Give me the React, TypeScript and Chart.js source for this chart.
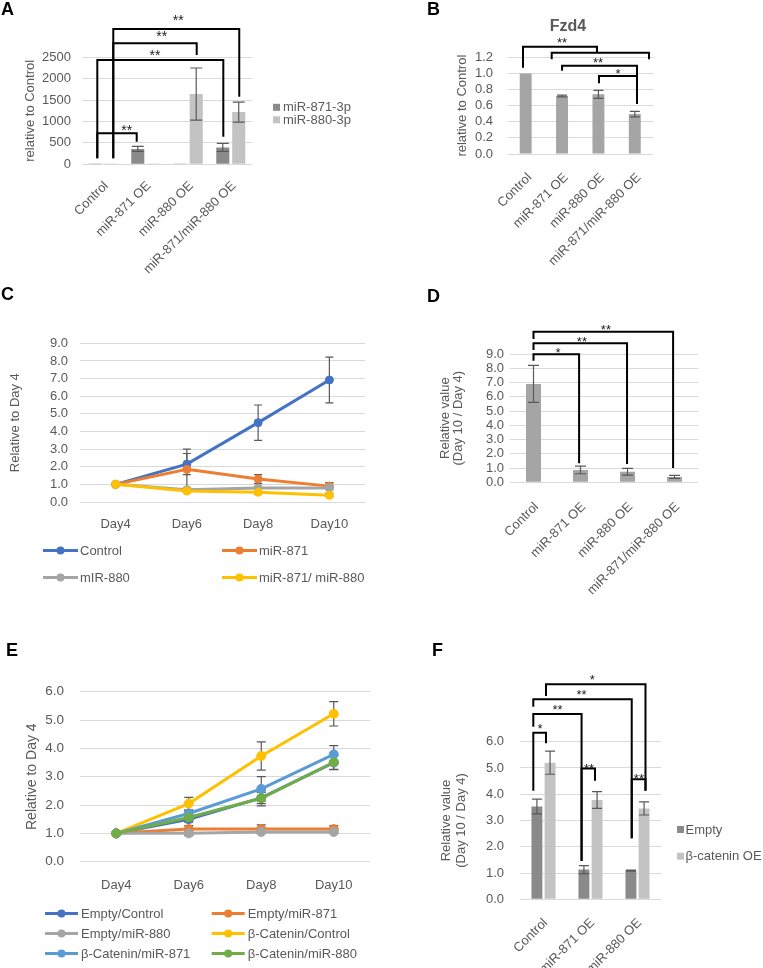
import { useEffect, useRef } from "react";
import { Chart, registerables } from "chart.js";

Chart.register(...registerables);

// ---------------- data ----------------
const groups4 = ["Control", "miR-871 OE", "miR-880 OE", "miR-871/miR-880 OE"];
const groups3 = ["Control", "miR-871 OE", "miR-880 OE"];
const days = ["Day4", "Day6", "Day8", "Day10"];

// A
const a871 = [1, 360, 6, 395];
const a871Err = [0, 60, 0, 95];
const a880 = [1, 18, 1640, 1220];
const a880Err = [0, 0, 610, 235];
const aTicks = [0, 500, 1000, 1500, 2000, 2500];

// B (Fzd4)
const bFzd4 = [1.0, 0.72, 0.74, 0.495];
const bFzd4Err = [0, 0.01, 0.05, 0.035];

// C
const cControl = [1.0, 2.15, 4.5, 6.92];
const cControlErr = [0, 0.6, 1.0, 1.3];
const c871 = [1.0, 1.85, 1.3, 0.9];
const c871Err = [0, 1.15, 0.25, 0.2];
const c880 = [1.0, 0.7, 0.8, 0.8];
const c880Err = [0, 0.1, 0.25, 0.3];
const cBoth = [1.0, 0.62, 0.55, 0.38];
const cBothErr = [0, 0.08, 0.1, 0.08];

// D
const dRatio = [6.9, 0.87, 0.74, 0.38];
const dRatioErr = [1.3, 0.27, 0.24, 0.1];

// E
const eEmptyCtrl = [1.0, 1.5, 2.25, 3.5];
const eEmptyCtrlErr = [0, 0.1, 0.2, 0.25];
const eEmpty871 = [1.0, 1.15, 1.15, 1.15];
const eEmpty871Err = [0, 0.12, 0.15, 0.12];
const eEmpty880 = [1.0, 1.0, 1.05, 1.05];
const eEmpty880Err = [0, 0.08, 0.05, 0.05];
const eBcatCtrl = [1.0, 2.05, 3.73, 5.22];
const eBcatCtrlErr = [0, 0.22, 0.5, 0.43];
const eBcat871 = [1.0, 1.7, 2.57, 3.79];
const eBcat871Err = [0, 0.1, 0.43, 0.31];
const eBcat880 = [1.0, 1.56, 2.24, 3.51];
const eBcat880Err = [0, 0.08, 0.27, 0.25];

// F
const fEmpty = [3.53, 1.13, 1.09];
const fEmptyErr = [0.28, 0.15, 0.02];
const fBcat = [5.2, 3.78, 3.46];
const fBcatErr = [0.44, 0.32, 0.25];

// significance brackets in data units:
// [xLeft, xRight, yTop, yLeftEnd, yRightEnd, label, labelX, labelY]
const bracketsA = [
  [-0.14, 0.787, 724, 140, 528, "**", 0.552, 855],
  [-0.14, 2.825, 2436, 140, 645, "**", 1.218, 2593],
  [0.236, 2.199, 2827, 140, 2553, "**", 1.375, 3037],
  [0.236, 3.2, 3161, 140, 1579, "**", 1.766, 3411],
];
const bracketsB = [
  [-0.074, 1.96, 1.331, 1.071, 1.257, "**", 1.0, 1.406],
  [0.715, 3.39, 1.257, 1.175, 1.175, "", 0, 0],
  [1.0, 3.06, 1.096, 1.033, 0.62, "**", 1.99, 1.158],
  [2.015, 3.06, 0.968, 0.877, 0.62, "*", 2.54, 1.021],
];
const bracketsD = [
  [0, 0.97, 8.98, 8.53, 1.33, "*", 0.52, 9.28],
  [0, 1.99, 9.75, 9.28, 1.28, "**", 1.03, 10.05],
  [0, 2.97, 10.56, 10.06, 1.0, "**", 1.54, 10.84],
];
const bracketsF = [
  [-0.217, 0.053, 6.34, 4.13, 5.94, "*", -0.074, 6.57],
  [-0.217, 0.81, 7.05, 6.57, 1.46, "**", 0.3, 7.29],
  [-0.217, 1.877, 7.62, 7.33, 2.32, "**", 0.81, 7.86],
  [0.053, 2.17, 8.19, 7.74, 4.13, "*", 1.04, 8.43],
  [0.81, 1.096, 4.98, 1.46, 4.51, "**", 0.97, 5.07],
  [1.877, 2.17, 4.57, 2.32, 4.13, "**", 2.03, 4.67],
];

// ---------------- styles ----------------
const FONT = "'Liberation Sans', Arial, Helvetica, sans-serif";
const TXT = "#595959";
const GRID = "#d9d9d9";
const ERR = "#595959";
const DARK = "#8a8a8a";
const LIGHT = "#c3c3c3";
const MID = "#a5a5a5";
const BLUE = "#4472C4";
const ORANGE = "#ED7D31";
const GRAY = "#A5A5A5";
const YELLOW = "#FFC000";
const LBLUE = "#5B9BD5";
const GREEN = "#70AD47";

type Rect = { x: number; y: number; w: number; h: number };

// ---------------- plugins ----------------
function drawErrors(chart: any, opts: any) {
  const { ctx } = chart;
  const ys = chart.scales.y;
  ctx.save();
  ctx.strokeStyle = opts.color || ERR;
  ctx.lineWidth = opts.width || 1.2;
  chart.data.datasets.forEach((ds: any, i: number) => {
    const errs = ds.errors;
    if (!errs) return;
    const meta = chart.getDatasetMeta(i);
    meta.data.forEach((el: any, j: number) => {
      const e = errs[j];
      if (!e) return;
      const v = ds.data[j];
      const x = el.x;
      const t = ys.getPixelForValue(v + e);
      const b = ys.getPixelForValue(v - e);
      const hw = (opts.cap || 10) / 2;
      ctx.beginPath();
      ctx.moveTo(x, t);
      ctx.lineTo(x, b);
      ctx.moveTo(x - hw, t);
      ctx.lineTo(x + hw, t);
      ctx.moveTo(x - hw, b);
      ctx.lineTo(x + hw, b);
      ctx.stroke();
    });
  });
  ctx.restore();
}

const errorBarsPlugin = {
  id: "errorBars",
  beforeDatasetsDraw(chart: any, _a: any, opts: any) {
    if (opts && opts.behind) drawErrors(chart, opts);
  },
  afterDatasetsDraw(chart: any, _a: any, opts: any) {
    if (opts && !opts.behind) drawErrors(chart, opts);
  },
};

const bracketsPlugin = {
  id: "brackets",
  afterDraw(chart: any, _a: any, opts: any) {
    const items = opts && opts.items;
    if (!items) return;
    const { ctx } = chart;
    const xs = chart.scales.x;
    const ys = chart.scales.y;
    ctx.save();
    ctx.strokeStyle = "#000";
    ctx.lineWidth = opts.width || 2;
    ctx.lineJoin = "miter";
    ctx.fillStyle = "#1a1a1a";
    ctx.font = `${opts.fontSize || 13}px ${FONT}`;
    ctx.textAlign = "center";
    ctx.textBaseline = "alphabetic";
    for (const it of items) {
      const [x1, x2, yt, y1, y2, label, lx, ly] = it;
      const X1 = xs.getPixelForValue(x1);
      const X2 = xs.getPixelForValue(x2);
      const YT = ys.getPixelForValue(yt);
      ctx.beginPath();
      ctx.moveTo(X1, ys.getPixelForValue(y1));
      ctx.lineTo(X1, YT);
      ctx.lineTo(X2, YT);
      ctx.lineTo(X2, ys.getPixelForValue(y2));
      ctx.stroke();
      if (label) {
        const m = ctx.measureText(label);
        const cy = ys.getPixelForValue(ly);
        ctx.fillText(
          label,
          xs.getPixelForValue(lx),
          cy + (m.actualBoundingBoxAscent - m.actualBoundingBoxDescent) / 2
        );
      }
    }
    ctx.restore();
  },
};

const gridLegendPlugin = {
  id: "gridLegend",
  afterDraw(chart: any, _a: any, o: any) {
    if (!o || o.x === undefined) return;
    const { ctx } = chart;
    ctx.save();
    ctx.font = `${o.fontSize || 13}px ${FONT}`;
    ctx.textBaseline = "middle";
    ctx.textAlign = "left";
    chart.data.datasets.forEach((ds: any, i: number) => {
      const col = i % o.cols;
      const row = Math.floor(i / o.cols);
      const x = o.x + col * (o.colW || 0);
      const y = o.y + row * o.rowH;
      if (o.kind === "line") {
        const color = ds.borderColor;
        ctx.strokeStyle = color;
        ctx.lineWidth = 3;
        ctx.beginPath();
        ctx.moveTo(x, y);
        ctx.lineTo(x + o.len, y);
        ctx.stroke();
        ctx.fillStyle = color;
        ctx.beginPath();
        ctx.arc(x + o.len / 2, y, 4, 0, Math.PI * 2);
        ctx.fill();
        ctx.fillStyle = TXT;
        ctx.fillText(ds.label, x + o.len + o.gap, y + 0.5);
      } else {
        ctx.fillStyle = ds.backgroundColor;
        ctx.fillRect(x, y - o.box / 2, o.box, o.box);
        ctx.fillStyle = TXT;
        ctx.fillText(ds.label, x + o.box + o.gap, y + 0.5);
      }
    });
    ctx.restore();
  },
};

// ---------------- helpers ----------------
function frame(rect: Rect, p: { l: number; t: number; r: number; b: number }, titleCX: number, titleLH: number) {
  const left = titleCX - titleLH / 2 - rect.x;
  const xh = rect.y + rect.h - p.b;
  return {
    padding: { left, top: p.t - rect.y, right: rect.x + rect.w - p.r, bottom: 0 },
    yWidth: p.l - rect.x - left,
    xh,
  };
}

function yAxis(o: any) {
  return {
    min: o.min,
    max: o.max,
    ticks: {
      stepSize: o.step,
      callback: o.fmt,
      padding: o.pad,
      autoSkip: false,
      color: TXT,
      font: { size: o.tickSize || 13, family: FONT },
    },
    grid: { color: GRID, drawTicks: false, lineWidth: 1 },
    border: { display: false },
    title: {
      display: true,
      text: o.title,
      color: TXT,
      padding: 0,
      font: { size: o.titleSize || 13, family: FONT, lineHeight: o.titleLH || 1.2 },
    },
    afterFit: (s: any) => {
      s.width = o.width;
    },
  };
}

function xAxis(o: any) {
  return {
    offset: true,
    grid: { display: false },
    border: { display: false },
    ticks: {
      color: TXT,
      font: { size: o.size || 13, family: FONT },
      minRotation: o.rot,
      maxRotation: o.rot,
      autoSkip: false,
      padding: o.pad,
      labelOffset: o.labelOffset || 0,
    },
    afterFit: (s: any) => {
      s.height = o.h;
    },
  };
}

const fmt1 = (v: any) => Number(v).toFixed(1);
const fmt0 = (v: any) => String(v);

function baseOptions(fr: any) {
  return {
    responsive: false,
    animation: false,
    devicePixelRatio: 1,
    events: [],
    layout: { padding: fr.padding },
  };
}

// ---------------- panel configs ----------------
const rectA: Rect = { x: 0, y: 0, w: 381, h: 290 };
const rectB: Rect = { x: 381, y: 0, w: 382, h: 290 };
const rectC: Rect = { x: 0, y: 270, w: 381, h: 330 };
const rectD: Rect = { x: 381, y: 270, w: 382, h: 330 };
const rectE: Rect = { x: 0, y: 620, w: 381, h: 348 };
const rectF: Rect = { x: 381, y: 620, w: 382, h: 348 };

function configA() {
  const fr = frame(rectA, { l: 82, t: 57.3, r: 252, b: 164.3 }, 30, 15.6);
  return {
    type: "bar",
    data: {
      labels: groups4,
      datasets: [
        { label: "miR-871-3p", data: a871, errors: a871Err, backgroundColor: DARK, categoryPercentage: 0.75, barPercentage: 0.82 },
        { label: "miR-880-3p", data: a880, errors: a880Err, backgroundColor: LIGHT, categoryPercentage: 0.75, barPercentage: 0.82 },
      ],
    },
    options: {
      ...baseOptions(fr),
      scales: {
        x: xAxis({ rot: 45, pad: 6, labelOffset: 3, h: fr.xh }),
        y: yAxis({ min: aTicks[0], max: aTicks[aTicks.length - 1], step: 500, fmt: fmt0, pad: 11, title: "relative to Control", width: fr.yWidth }),
      },
      plugins: {
        legend: { display: false },
        tooltip: { enabled: false },
        errorBars: { cap: 12 },
        brackets: { items: bracketsA, fontSize: 14 },
        gridLegend: { kind: "box", x: 273 - rectA.x, y: 107.3 - rectA.y, cols: 1, rowH: 12.5, box: 7, gap: 3 },
      },
    },
    plugins: [errorBarsPlugin, bracketsPlugin, gridLegendPlugin],
  };
}

function configB() {
  const fr = frame(rectB, { l: 507.5, t: 57.3, r: 653, b: 154 }, 462, 15.6);
  return {
    type: "bar",
    data: {
      labels: groups4,
      datasets: [{ label: "Fzd4", data: bFzd4, errors: bFzd4Err, backgroundColor: MID, categoryPercentage: 0.4, barPercentage: 0.82 }],
    },
    options: {
      ...baseOptions(fr),
      scales: {
        x: xAxis({ rot: 45, pad: 8, labelOffset: 4, h: fr.xh }),
        y: yAxis({ min: 0, max: 1.2, step: 0.2, fmt: fmt1, pad: 14.5, title: "relative to Control", width: fr.yWidth }),
      },
      plugins: {
        legend: { display: false },
        tooltip: { enabled: false },
        errorBars: { cap: 10 },
        brackets: { items: bracketsB, fontSize: 13 },
      },
    },
    plugins: [errorBarsPlugin, bracketsPlugin],
  };
}

function lineDs(label: string, data: number[], errors: number[], color: string, i: number, r: number) {
  return {
    label,
    data,
    errors,
    borderColor: color,
    backgroundColor: color,
    borderWidth: 3,
    pointRadius: r,
    pointBorderWidth: 1,
    pointBackgroundColor: color,
    pointBorderColor: color,
    tension: 0,
    order: -i,
  };
}

function configC() {
  const fr = frame(rectC, { l: 80, t: 343.3, r: 365, b: 502 }, 15, 15.6);
  return {
    type: "line",
    data: {
      labels: days,
      datasets: [
        lineDs("Control", cControl, cControlErr, BLUE, 0, 4),
        lineDs("miR-871", c871, c871Err, ORANGE, 1, 4),
        lineDs("mIR-880", c880, c880Err, GRAY, 2, 4),
        lineDs("miR-871/ miR-880", cBoth, cBothErr, YELLOW, 3, 4),
      ],
    },
    options: {
      ...baseOptions(fr),
      scales: {
        x: xAxis({ rot: 0, pad: 7, h: fr.xh }),
        y: yAxis({ min: 0, max: 9, step: 1, fmt: fmt1, pad: 12, title: "Relative to Day 4", width: fr.yWidth }),
      },
      plugins: {
        legend: { display: false },
        tooltip: { enabled: false },
        errorBars: { cap: 8, behind: true },
        gridLegend: { kind: "line", x: 43 - rectC.x, y: 550.5 - rectC.y, cols: 2, colW: 179, rowH: 27, len: 35, gap: 2 },
      },
    },
    plugins: [errorBarsPlugin, gridLegendPlugin],
  };
}

function configD() {
  const fr = frame(rectD, { l: 510, t: 354, r: 698, b: 482.3 }, 445, 13.5);
  return {
    type: "bar",
    data: {
      labels: groups4,
      datasets: [{ label: "Relative value", data: dRatio, errors: dRatioErr, backgroundColor: MID, categoryPercentage: 0.4, barPercentage: 0.8 }],
    },
    options: {
      ...baseOptions(fr),
      scales: {
        x: xAxis({ rot: 45, pad: 9, labelOffset: 3, h: fr.xh }),
        y: yAxis({ min: 0, max: 9, step: 1, fmt: fmt1, pad: 6, title: ["Relative value", "(Day 10 / Day 4)"], titleLH: 1.04, width: fr.yWidth }),
      },
      plugins: {
        legend: { display: false },
        tooltip: { enabled: false },
        errorBars: { cap: 11 },
        brackets: { items: bracketsD, fontSize: 13 },
      },
    },
    plugins: [errorBarsPlugin, bracketsPlugin],
  };
}

function configE() {
  const fr = frame(rectE, { l: 80, t: 691.7, r: 370, b: 861.7 }, 32, 16.8);
  return {
    type: "line",
    data: {
      labels: days,
      datasets: [
        lineDs("Empty/Control", eEmptyCtrl, eEmptyCtrlErr, BLUE, 0, 4.5),
        lineDs("Empty/miR-871", eEmpty871, eEmpty871Err, ORANGE, 1, 4.5),
        lineDs("Empty/miR-880", eEmpty880, eEmpty880Err, GRAY, 2, 4.5),
        lineDs("β-Catenin/Control", eBcatCtrl, eBcatCtrlErr, YELLOW, 3, 4.5),
        lineDs("β-Catenin/miR-871", eBcat871, eBcat871Err, LBLUE, 4, 4.5),
        lineDs("β-Catenin/miR-880", eBcat880, eBcat880Err, GREEN, 5, 4.5),
      ],
    },
    options: {
      ...baseOptions(fr),
      scales: {
        x: xAxis({ rot: 0, pad: 8, h: fr.xh }),
        y: yAxis({ min: 0, max: 6, step: 1, fmt: fmt1, pad: 16, tickSize: 13.5, titleSize: 14, title: "Relative to Day 4", width: fr.yWidth }),
      },
      plugins: {
        legend: { display: false },
        tooltip: { enabled: false },
        errorBars: { cap: 9, behind: true },
        gridLegend: { kind: "line", x: 45 - rectE.x, y: 913.5 - rectE.y, cols: 2, colW: 166.7, rowH: 20, len: 33, gap: 3 },
      },
    },
    plugins: [errorBarsPlugin, gridLegendPlugin],
  };
}

function configF() {
  const fr = frame(rectF, { l: 520, t: 741.7, r: 661, b: 899.3 }, 446.7, 15);
  return {
    type: "bar",
    data: {
      labels: groups3,
      datasets: [
        { label: "Empty", data: fEmpty, errors: fEmptyErr, backgroundColor: DARK, categoryPercentage: 0.56, barPercentage: 0.83 },
        { label: "β-catenin OE", data: fBcat, errors: fBcatErr, backgroundColor: LIGHT, categoryPercentage: 0.56, barPercentage: 0.83 },
      ],
    },
    options: {
      ...baseOptions(fr),
      scales: {
        x: xAxis({ rot: 45, pad: 8, labelOffset: 2, h: fr.xh }),
        y: yAxis({ min: 0, max: 6, step: 1, fmt: fmt1, pad: 16, title: ["Relative value", "(Day 10 / Day 4)"], titleLH: 1.15, width: fr.yWidth }),
      },
      plugins: {
        legend: { display: false },
        tooltip: { enabled: false },
        errorBars: { cap: 10 },
        brackets: { items: bracketsF, fontSize: 13 },
        gridLegend: { kind: "box", x: 677 - rectF.x, y: 829.5 - rectF.y, cols: 1, rowH: 26.7, box: 7, gap: 1.5 },
      },
    },
    plugins: [errorBarsPlugin, bracketsPlugin, gridLegendPlugin],
  };
}

// ---------------- components ----------------
function Panel({ rect, build }: { rect: Rect; build: () => any }) {
  const ref = useRef<HTMLCanvasElement | null>(null);
  useEffect(() => {
    if (!ref.current) return;
    const chart = new Chart(ref.current, build() as any);
    return () => chart.destroy();
  }, []);
  return (
    <canvas
      ref={ref}
      width={rect.w}
      height={rect.h}
      style={{ position: "absolute", left: rect.x, top: rect.y, width: rect.w, height: rect.h }}
    />
  );
}

function Letter({ text, x, y }: { text: string; x: number; y: number }) {
  return (
    <div style={{ position: "absolute", left: x, top: y, font: `bold 18px ${FONT}`, lineHeight: "18px", color: "#000" }}>
      {text}
    </div>
  );
}

export default function App() {
  return (
    <div style={{ position: "absolute", left: 0, top: 0, width: 763, height: 968, background: "#fff", overflow: "hidden" }}>
      <Panel rect={rectA} build={configA} />
      <Panel rect={rectB} build={configB} />
      <Panel rect={rectC} build={configC} />
      <Panel rect={rectD} build={configD} />
      <Panel rect={rectE} build={configE} />
      <Panel rect={rectF} build={configF} />
      <Letter text="A" x={1} y={0} />
      <Letter text="B" x={427} y={0} />
      <Letter text="C" x={1} y={285} />
      <Letter text="D" x={427} y={287} />
      <Letter text="E" x={6} y={641} />
      <Letter text="F" x={432} y={641} />
      <div
        style={{
          position: "absolute",
          left: 528,
          top: 18.2,
          width: 80,
          textAlign: "center",
          font: `bold 16px ${FONT}`,
          lineHeight: "16px",
          color: TXT,
        }}
      >
        Fzd4
      </div>
    </div>
  );
}
